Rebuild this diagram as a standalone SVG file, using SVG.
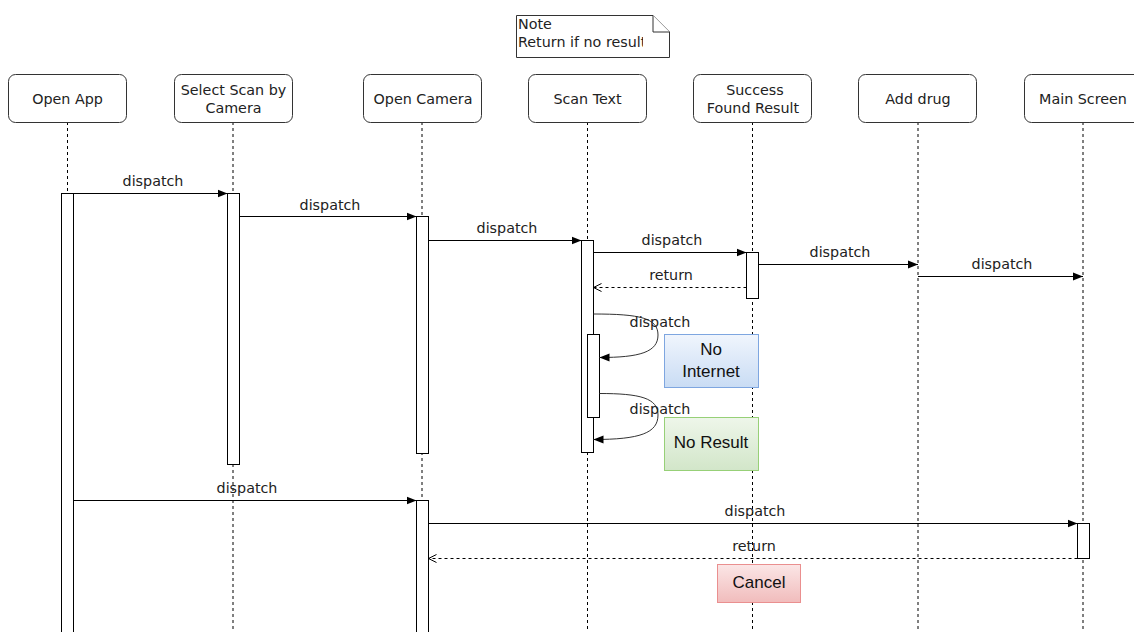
<svg xmlns="http://www.w3.org/2000/svg" width="1134" height="632" viewBox="0 0 1134 632">
<style>
.box{fill:#fff;stroke:#333;stroke-width:1}
.life{stroke:#000;stroke-width:1;stroke-dasharray:3,3;fill:none}
.act{fill:#fff;stroke:#000;stroke-width:1}
.msg{stroke:#000;stroke-width:1;fill:none}
.ret{stroke:#000;stroke-width:1;stroke-dasharray:3,3;fill:none}
.self{stroke:#333;stroke-width:1;fill:none}
text{font-family:"DejaVu Sans","Verdana",sans-serif;font-size:14.3px;fill:#222}
.lbl{text-anchor:middle}
.big{font-family:"Liberation Sans",Arial,sans-serif;font-size:17px;text-anchor:middle;fill:#111}
</style>
<defs>
<marker id="fill" viewBox="0 0 10 10" refX="10" refY="5" markerWidth="10" markerHeight="10" markerUnits="userSpaceOnUse" orient="auto">
<path d="M0,1 L10,5 L0,9 Z" fill="#000"/>
</marker>
<marker id="open" viewBox="0 0 10 10" refX="9" refY="5" markerWidth="10" markerHeight="10" markerUnits="userSpaceOnUse" orient="auto">
<path d="M1,1 L9,5 L1,9" fill="none" stroke="#000" stroke-width="1"/>
</marker>
<linearGradient id="gBlue" x1="0" y1="0" x2="0" y2="1"><stop offset="0" stop-color="#f0f5fd"/><stop offset="1" stop-color="#c9dcf4"/></linearGradient>
<linearGradient id="gGreen" x1="0" y1="0" x2="0" y2="1"><stop offset="0" stop-color="#eef6ea"/><stop offset="1" stop-color="#d2e6c9"/></linearGradient>
<linearGradient id="gRed" x1="0" y1="0" x2="0" y2="1"><stop offset="0" stop-color="#fbe6e6"/><stop offset="1" stop-color="#f1bcbc"/></linearGradient>
<clipPath id="noteClip"><rect x="516" y="15" width="127" height="42"/></clipPath>
</defs>

<g id="lifelines">
<line class="life" x1="67.5" y1="122" x2="67.5" y2="632"/>
<line class="life" x1="233" y1="122" x2="233" y2="632"/>
<line class="life" x1="422" y1="122" x2="422" y2="632"/>
<line class="life" x1="587.5" y1="122" x2="587.5" y2="632"/>
<line class="life" x1="752.5" y1="122" x2="752.5" y2="632"/>
<line class="life" x1="918" y1="122" x2="918" y2="632"/>
<line class="life" x1="1083" y1="122" x2="1083" y2="632"/>
</g>

<g id="note">
<path class="box" d="M516.5,15.5 H653 L669.5,32 V57.5 H516.5 Z"/>
<path class="box" d="M653,15.5 V32 H669.5" fill="none"/>
<g clip-path="url(#noteClip)">
<text x="518" y="29">Note</text>
<text x="518" y="47">Return if no result</text>
</g>
</g>

<g id="n-openapp"><rect class="box" x="8.5" y="74.5" width="118" height="48" rx="7"/><text class="lbl" x="67.5" y="104">Open App</text></g>
<g id="n-selectscan"><rect class="box" x="174.5" y="74.5" width="118" height="48" rx="7"/><text class="lbl" x="233.5" y="95">Select Scan by</text><text class="lbl" x="233.5" y="113">Camera</text></g>
<g id="n-opencamera"><rect class="box" x="363.5" y="74.5" width="118" height="48" rx="7"/><text class="lbl" x="423" y="104">Open Camera</text></g>
<g id="n-scantext"><rect class="box" x="528.5" y="74.5" width="118" height="48" rx="7"/><text class="lbl" x="587.5" y="104">Scan Text</text></g>
<g id="n-success"><rect class="box" x="693.5" y="74.5" width="118" height="48" rx="7"/><text class="lbl" x="755" y="95">Success</text><text class="lbl" x="753" y="113">Found Result</text></g>
<g id="n-adddrug"><rect class="box" x="858.5" y="74.5" width="118" height="48" rx="7"/><text class="lbl" x="918" y="104">Add drug</text></g>
<g id="n-mainscreen"><rect class="box" x="1024.5" y="74.5" width="118" height="48" rx="7"/><text class="lbl" x="1083" y="104">Main Screen</text></g>

<g id="activations">
<rect class="act" x="61.5" y="193.5" width="12" height="445"/>
<rect class="act" x="227.5" y="193.5" width="12" height="271"/>
<rect class="act" x="416.5" y="216.5" width="12" height="237"/>
<rect class="act" x="581.5" y="240.5" width="12" height="212"/>
<rect class="act" x="746.5" y="252.5" width="12" height="46"/>
<rect class="act" x="587.5" y="334.5" width="12" height="83"/>
<rect class="act" x="416.5" y="500.5" width="12" height="140"/>
<rect class="act" x="1077.5" y="523.5" width="12" height="35"/>
</g>

<g id="connectors">
<line class="msg" x1="73.5" y1="193.5" x2="227.5" y2="193.5" marker-end="url(#fill)"/>
<line class="msg" x1="239.5" y1="216.5" x2="416.5" y2="216.5" marker-end="url(#fill)"/>
<line class="msg" x1="428.5" y1="240.5" x2="581.5" y2="240.5" marker-end="url(#fill)"/>
<line class="msg" x1="593.5" y1="252.5" x2="746.5" y2="252.5" marker-end="url(#fill)"/>
<line class="ret" x1="746.5" y1="287.5" x2="593.5" y2="287.5" marker-end="url(#open)"/>
<line class="msg" x1="758.5" y1="264.5" x2="918" y2="264.5" marker-end="url(#fill)"/>
<line class="msg" x1="918" y1="276.5" x2="1083" y2="276.5" marker-end="url(#fill)"/>
<path class="self" d="M593.5,314 C640,314 658,318 658,335 C658,352 640,357.5 599.5,357.5" marker-end="url(#fill)"/>
<path class="self" d="M599.5,393.5 C640,393.5 658,398 658,415 C658,433 640,439.5 593.5,439.5" marker-end="url(#fill)"/>
<line class="msg" x1="73.5" y1="500.5" x2="416.5" y2="500.5" marker-end="url(#fill)"/>
<line class="msg" x1="428.5" y1="523.5" x2="1077.5" y2="523.5" marker-end="url(#fill)"/>
<line class="ret" x1="1077.5" y1="558.5" x2="428.5" y2="558.5" marker-end="url(#open)"/>
</g>

<g id="labels">
<text class="lbl" x="153" y="186">dispatch</text>
<text class="lbl" x="330" y="210">dispatch</text>
<text class="lbl" x="507" y="233">dispatch</text>
<text class="lbl" x="672" y="245">dispatch</text>
<text class="lbl" x="671" y="280">return</text>
<text class="lbl" x="840" y="257">dispatch</text>
<text class="lbl" x="1002" y="269">dispatch</text>
<text class="lbl" x="660" y="327">dispatch</text>
<text class="lbl" x="660" y="414">dispatch</text>
<text class="lbl" x="247" y="493">dispatch</text>
<text class="lbl" x="755" y="516">dispatch</text>
<text class="lbl" x="754" y="551">return</text>
</g>

<g id="n-nointernet"><rect x="664.5" y="334.5" width="94" height="53" fill="url(#gBlue)" stroke="#7ea6e0"/><text class="big" x="711" y="355">No</text><text class="big" x="711" y="377">Internet</text></g>
<g id="n-noresult"><rect x="664.5" y="417.5" width="94" height="53" fill="url(#gGreen)" stroke="#97d077"/><text class="big" x="711" y="448">No Result</text></g>
<g id="n-cancel"><rect x="717.5" y="564.5" width="83" height="38" fill="url(#gRed)" stroke="#ea8f8f"/><text class="big" x="759" y="588">Cancel</text></g>
</svg>
